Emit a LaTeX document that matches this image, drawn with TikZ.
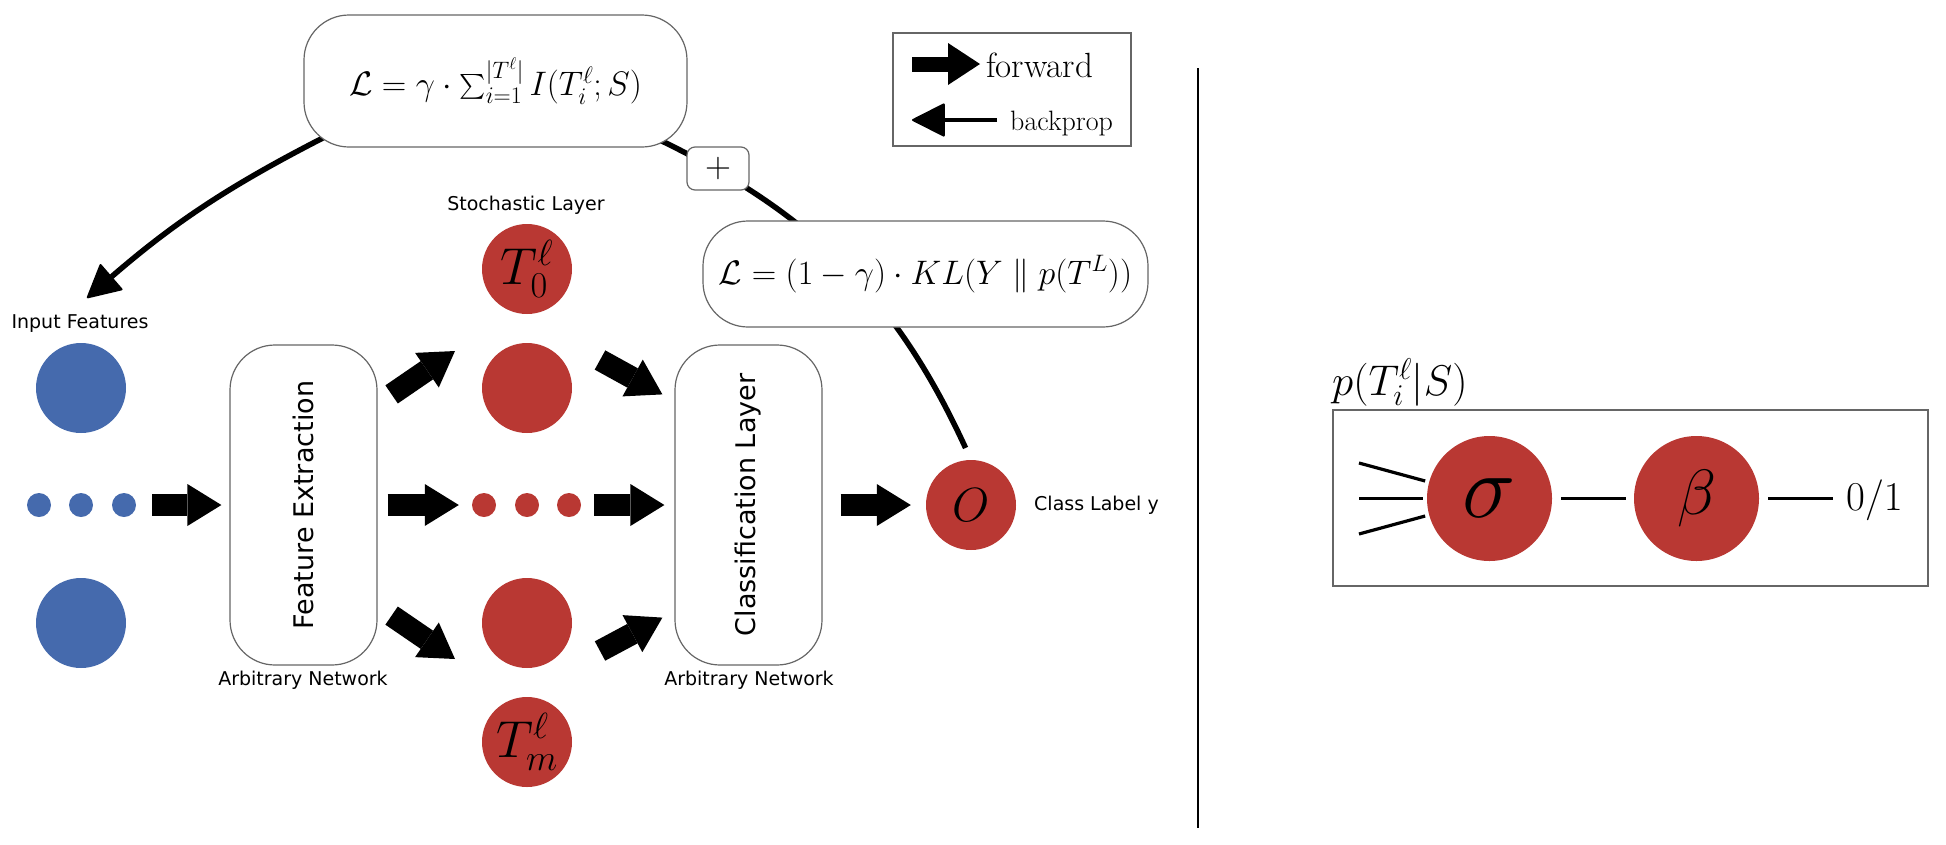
\RequirePackage{fix-cm}
\documentclass[tikz,border=0pt]{standalone}
\usepackage{exscale}
\usepackage{fontspec}
\newfontfamily\labelsans{DejaVu Sans}
\usetikzlibrary{arrows.meta,shapes.geometric,backgrounds,calc}
\definecolor{inblue}{HTML}{456AAD}
\definecolor{layred}{HTML}{B93833}
\definecolor{edge}{HTML}{666666}
\newcommand{\fsz}[1]{\fontsize{#1}{#1}\selectfont}
\tikzset{
  inputnode/.style={circle, fill=inblue, minimum size=90pt, inner sep=0pt},
  layernode/.style={circle, fill=layred, minimum size=90pt, inner sep=0pt},
  dotnode/.style={circle, minimum size=24pt, inner sep=0pt},
  gate/.style={circle, fill=layred, minimum size=125pt, inner sep=0pt},
  netbox/.style={draw=edge, line width=1.2pt, rounded corners=45pt, minimum width=147pt, minimum height=320pt},
  boxtext/.style={rotate=90, inner sep=0pt, font=\labelsans\fsz{27}},
  lossbox/.style={draw=edge, fill=white, line width=1.2pt, inner sep=0pt, font=\fsz{34}},
  lbl/.style={inner sep=1pt, font=\labelsans\fsz{19}},
  fwd/.style={line width=22pt, -{Triangle[length=34pt, width=42pt, line width=0pt]}},
  keyfwd/.style={line width=15pt, -{Triangle[length=32pt, width=42pt, line width=0pt]}},
  back/.style={line width=5.5pt, -{Triangle[length=34pt, width=35pt, line width=2pt, round]}},
  keybp/.style={line width=4pt, -{Triangle[length=34pt, width=34pt, line width=2pt, round]}},
  curve/.style={line width=5.5pt},
  wire/.style={line width=3.2pt}
}

\begin{document}
\begin{tikzpicture}[x=1pt, y=-1pt]
  \useasboundingbox (0,0) rectangle (1946,844);
  % input features
  \node[lbl] (inlabel) at (80,324) {Input Features};
  \node[inputnode] (in1) at (81,388) {};
  \foreach \x [count=\k] in {39,81,124}
    \node[dotnode, fill=inblue] (ind\k) at (\x,505) {};
  \node[inputnode] (in2) at (81,623) {};
  % feature extraction
  \node[netbox] (fe) at (303.5,505) {};
  \node[boxtext] (fetxt) at (fe.center) {Feature Extraction};
  \node[lbl] (fenet) at (303,680) {Arbitrary Network};
  % stochastic layer
  \node[lbl] (stochlabel) at (526,205) {Stochastic Layer};
  \node[layernode, font=\fsz{52}] (t0) at (527,269) {$T_0^\ell$};
  \node[layernode] (s1) at (527,388) {};
  \foreach \x [count=\k] in {484,527,569}
    \node[dotnode, fill=layred] (sd\k) at (\x,505) {};
  \node[layernode] (s3) at (527,623) {};
  \node[layernode, font=\fsz{52}] (tm) at (527,742) {$T_m^\ell$};
  % classification and output
  \node[netbox] (cl) at (748.5,505) {};
  \node[boxtext] (cltxt) at (cl.center) {Classification Layer};
  \node[lbl] (clnet) at (749,680) {Arbitrary Network};
  \node[layernode, font=\fsz{48}] (out) at (971,505) {$O$};
  \node[lbl, anchor=west] (ylabel) at (1033,505) {Class Label y};
  % forward arrows
  \draw[fwd, shorten <=16pt, shorten >=8pt] (ind3) -- (fe);
  \draw[fwd] ($(fe.north east)+(14,50)$) -- ($(s1)+(-72,-37)$);
  \draw[fwd, shorten <=10pt, shorten >=13pt] (fe) -- (sd1);
  \draw[fwd] ($(fe.south east)+(14,-50)$) -- ($(s3)+(-72,36)$);
  \draw[fwd] ($(s1)+(73,-28)$) -- ($(cl.north west)+(-12,50)$);
  \draw[fwd, shorten <=13pt, shorten >=10pt] (sd3) -- (cl);
  \draw[fwd] ($(s3)+(73,28)$) -- ($(cl.south west)+(-12,-48)$);
  \draw[fwd, shorten <=18pt, shorten >=15pt] (cl) -- (out);
  % losses
  \node[lossbox, rounded corners=45pt, minimum width=383pt, minimum height=132pt] (loss1) at (495.5,81)
    {$\mathcal{L} = \gamma \cdot \sum_{i=1}^{|T^\ell|} I(T_i^\ell; S)$};
  \node[lossbox, rounded corners=8pt, minimum width=62pt, minimum height=43pt, font=\fsz{36}] (plus) at (718,168.5) {$+$};
  \node[lossbox, rounded corners=45pt, minimum width=445pt, minimum height=106pt] (loss2) at (925.5,274)
    {$\mathcal{L} = (1-\gamma) \cdot KL(Y \parallel p(T^L))$};
  \coordinate (bpend) at (87,298);
  \begin{scope}[on background layer]
    \draw[back] ($(loss1.south west)+(30,-15)$) to[bend right=7] (bpend);
    \draw[curve, shorten >=13pt] ($(loss1.south east)+(-37,-12)$) to[bend left=20] (out.north);
  \end{scope}
  % legend
  \node[draw=edge, line width=1.5pt, minimum width=238pt, minimum height=113pt] (legend) at (1012,89.5) {};
  \node[anchor=west, inner sep=0pt, font=\fsz{35}] (fwdtxt) at (986,65) {forward};
  \node[anchor=west, inner sep=0pt, font=\fsz{28}] (bptxt) at (1010,124) {backprop};
  \coordinate (kf) at (912,64);
  \coordinate (kb) at (912,120);
  \draw[keyfwd, shorten >=6pt] (kf) -- (kf -| fwdtxt.west);
  \draw[keybp, shorten <=13pt] (kb -| bptxt.west) -- (kb);
  % divider
  \draw[line width=2pt] (1198,68) -- (1198,828);
  % stochastic neuron, right
  \node[draw=edge, line width=2pt, minimum width=595pt, minimum height=176pt] (pbox) at (1630.5,498) {};
  \node[anchor=south west, inner sep=0pt, font=\fsz{43}] (ptitle) at ($(pbox.north west)+(0,-3)$) {$p(T_i^\ell|S)$};
  \node[gate, font=\fsz{90}] (sig) at (1489.5,498.5) {$\sigma$};
  \node[gate, font=\fsz{64}] (beta) at (1696.5,498.5) {$\beta$};
  \node[anchor=west, inner sep=0pt, font=\fsz{41}] (bin) at (1846,500) {$0/1$};
  \foreach \y [count=\k] in {463,498.5,534} {
    \coordinate (w\k) at (1359,\y);
    \draw[wire, shorten >=4pt] (w\k) -- (sig);
  }
  \draw[wire, shorten <=9pt, shorten >=8pt] (sig) -- (beta);
  \draw[wire, shorten <=9pt, shorten >=13pt] (beta) -- (beta -| bin.west);
\end{tikzpicture}
\end{document}
